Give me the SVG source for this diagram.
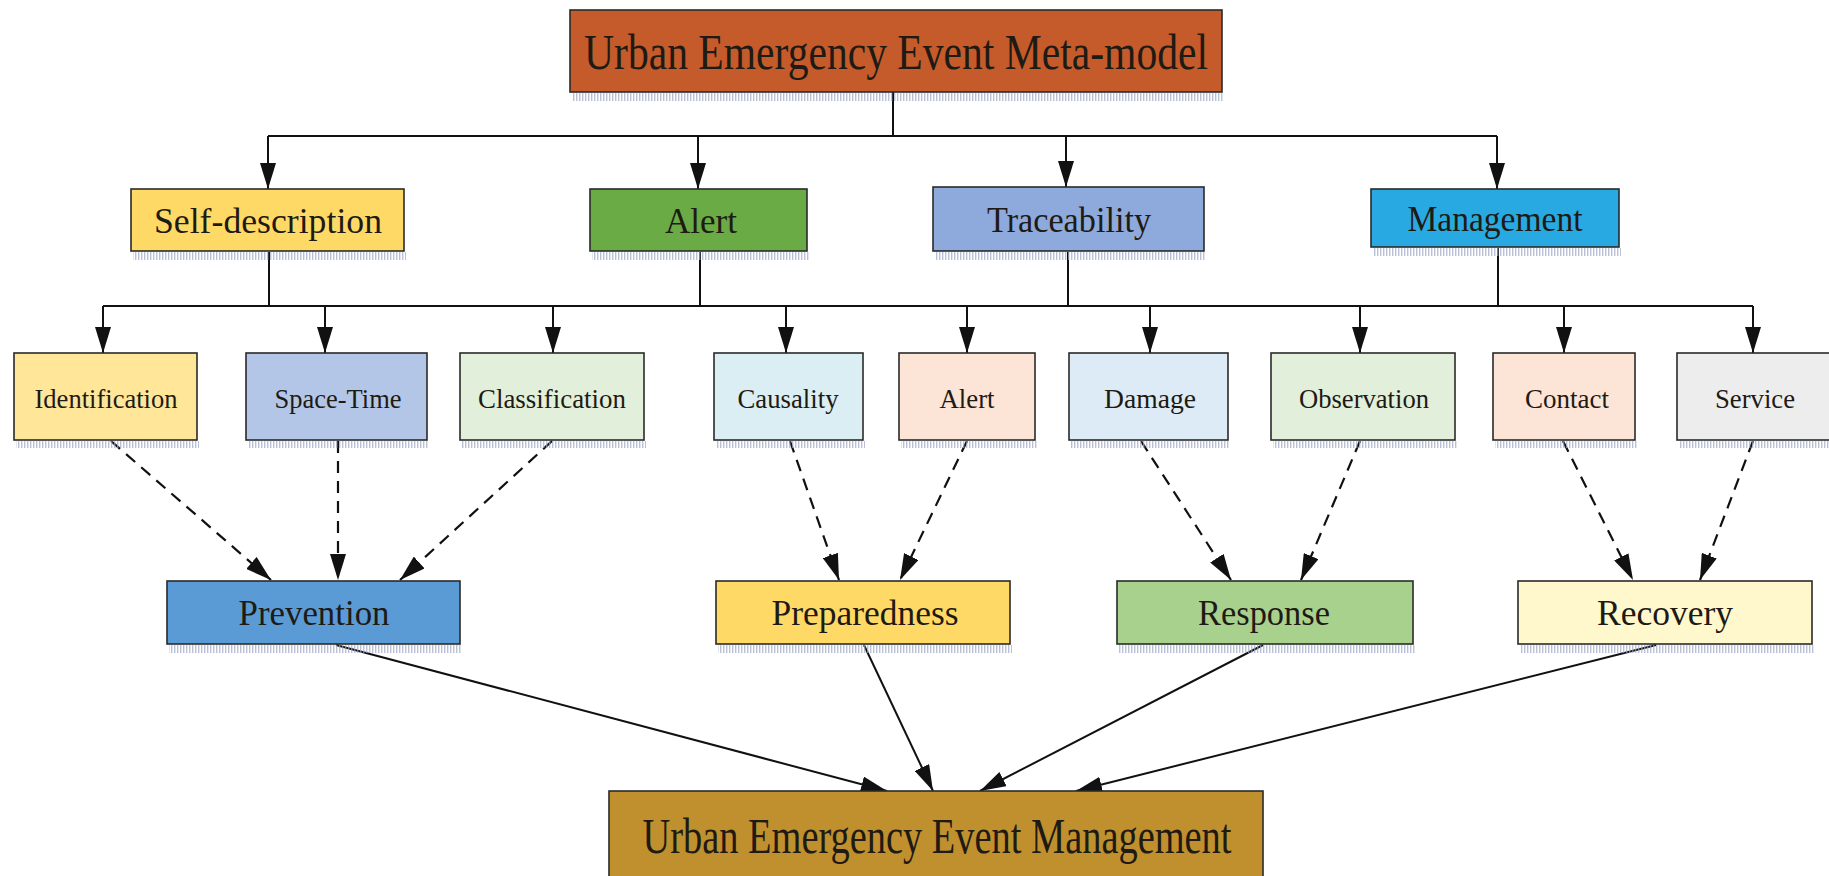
<svg xmlns="http://www.w3.org/2000/svg" width="1829" height="876" viewBox="0 0 1829 876">
<style>
.box{stroke:#2a2a2a;stroke-width:1.6}
.t{font-family:"Liberation Serif","Times New Roman",serif;fill:#1e1a14;text-anchor:middle;dominant-baseline:central}
.t1{font-size:50px}
.t2{font-size:36px}
.t3{font-size:28px}
.t4{font-size:36px}
.ln{stroke:#111;stroke-width:2;fill:none}
.arr{stroke:#111;stroke-width:2;fill:none;marker-end:url(#ah)}
.dash{stroke:#111;stroke-width:2.2;fill:none;stroke-dasharray:12 8;marker-end:url(#ah)}
.sh{fill:url(#shp);opacity:0.7}
</style>
<defs>
<marker id="ah" viewBox="0 0 26 16" refX="26" refY="8" markerWidth="26" markerHeight="16" orient="auto" markerUnits="userSpaceOnUse">
<path d="M0,0 L26,8 L0,16 z" fill="#111"/>
</marker>
<pattern id="shp" width="3" height="8" patternUnits="userSpaceOnUse">
<rect x="0" y="0" width="1.4" height="8" fill="#9aa6c4"/>
</pattern>
</defs>
<rect width="1829" height="876" fill="#ffffff"/>

<g id="connectors">
<line class="ln" x1="893" y1="92" x2="893" y2="136"/>
<line class="ln" x1="268" y1="136" x2="1497" y2="136"/>
<line class="arr" x1="268" y1="136" x2="268" y2="189"/>
<line class="arr" x1="698" y1="136" x2="698" y2="189"/>
<line class="arr" x1="1066" y1="136" x2="1066" y2="187"/>
<line class="arr" x1="1497" y1="136" x2="1497" y2="189"/>

<line class="ln" x1="269" y1="252" x2="269" y2="306"/>
<line class="ln" x1="700" y1="252" x2="700" y2="306"/>
<line class="ln" x1="1068" y1="252" x2="1068" y2="306"/>
<line class="ln" x1="1498" y1="248" x2="1498" y2="306"/>
<line class="ln" x1="103" y1="306" x2="1753" y2="306"/>
<line class="arr" x1="103" y1="306" x2="103" y2="353"/>
<line class="arr" x1="325" y1="306" x2="325" y2="353"/>
<line class="arr" x1="553" y1="306" x2="553" y2="353"/>
<line class="arr" x1="786" y1="306" x2="786" y2="353"/>
<line class="arr" x1="967" y1="306" x2="967" y2="353"/>
<line class="arr" x1="1150" y1="306" x2="1150" y2="353"/>
<line class="arr" x1="1360" y1="306" x2="1360" y2="353"/>
<line class="arr" x1="1564" y1="306" x2="1564" y2="353"/>
<line class="arr" x1="1753" y1="306" x2="1753" y2="353"/>

<line class="dash" x1="111" y1="441" x2="271" y2="580"/>
<line class="dash" x1="338" y1="441" x2="338" y2="580"/>
<line class="dash" x1="552" y1="441" x2="400" y2="580"/>
<line class="dash" x1="790" y1="441" x2="839" y2="580"/>
<line class="dash" x1="967" y1="441" x2="900" y2="580"/>
<line class="dash" x1="1141" y1="441" x2="1231" y2="580"/>
<line class="dash" x1="1360" y1="441" x2="1301" y2="580"/>
<line class="dash" x1="1563" y1="441" x2="1633" y2="580"/>
<line class="dash" x1="1753" y1="441" x2="1700" y2="580"/>

<line class="arr" x1="336" y1="645" x2="887" y2="791"/>
<line class="arr" x1="864" y1="645" x2="933" y2="791"/>
<line class="arr" x1="1263" y1="645" x2="980" y2="791"/>
<line class="arr" x1="1656" y1="645" x2="1076" y2="791"/>
</g>

<g id="n-top">
<rect class="sh" x="572" y="93" width="652" height="8"/>
<rect class="box" x="570" y="10" width="652" height="82" fill="#C55A2A"/>
<text class="t t1" x="896" y="52" textLength="624" lengthAdjust="spacingAndGlyphs">Urban Emergency Event Meta-model</text>
</g>

<g id="n-self">
<rect class="sh" x="133" y="252" width="273" height="8"/>
<rect class="box" x="131" y="189" width="273" height="62" fill="#FFD966"/>
<text class="t t2" x="268" y="221" textLength="228" lengthAdjust="spacingAndGlyphs">Self-description</text>
</g>
<g id="n-alert2">
<rect class="sh" x="592" y="252" width="217" height="8"/>
<rect class="box" x="590" y="189" width="217" height="62" fill="#6AAB45"/>
<text class="t t2" x="701" y="221" textLength="72" lengthAdjust="spacingAndGlyphs">Alert</text>
</g>
<g id="n-trace">
<rect class="sh" x="935" y="252" width="271" height="8"/>
<rect class="box" x="933" y="187" width="271" height="64" fill="#8EA9DB"/>
<text class="t t2" x="1069" y="220" textLength="164" lengthAdjust="spacingAndGlyphs">Traceability</text>
</g>
<g id="n-mgmt">
<rect class="sh" x="1373" y="248" width="248" height="8"/>
<rect class="box" x="1371" y="189" width="248" height="58" fill="#29A9E1"/>
<text class="t t2" x="1495" y="219" textLength="175" lengthAdjust="spacingAndGlyphs">Management</text>
</g>

<g id="n-ident">
<rect class="sh" x="16" y="441" width="183" height="7"/>
<rect class="box" x="14" y="353" width="183" height="87" fill="#FFE699"/>
<text class="t t3" x="106" y="398" textLength="143" lengthAdjust="spacingAndGlyphs">Identification</text>
</g>
<g id="n-space">
<rect class="sh" x="248" y="441" width="181" height="7"/>
<rect class="box" x="246" y="353" width="181" height="87" fill="#B4C6E7"/>
<text class="t t3" x="338" y="398" textLength="127" lengthAdjust="spacingAndGlyphs">Space-Time</text>
</g>
<g id="n-class">
<rect class="sh" x="462" y="441" width="184" height="7"/>
<rect class="box" x="460" y="353" width="184" height="87" fill="#E2EFDA"/>
<text class="t t3" x="552" y="398" textLength="148" lengthAdjust="spacingAndGlyphs">Classification</text>
</g>
<g id="n-caus">
<rect class="sh" x="716" y="441" width="149" height="7"/>
<rect class="box" x="714" y="353" width="149" height="87" fill="#DAEEF3"/>
<text class="t t3" x="788" y="398" textLength="101" lengthAdjust="spacingAndGlyphs">Causality</text>
</g>
<g id="n-alert3">
<rect class="sh" x="901" y="441" width="136" height="7"/>
<rect class="box" x="899" y="353" width="136" height="87" fill="#FCE4D6"/>
<text class="t t3" x="967" y="398" textLength="55" lengthAdjust="spacingAndGlyphs">Alert</text>
</g>
<g id="n-damage">
<rect class="sh" x="1071" y="441" width="159" height="7"/>
<rect class="box" x="1069" y="353" width="159" height="87" fill="#DDEBF7"/>
<text class="t t3" x="1150" y="398" textLength="92" lengthAdjust="spacingAndGlyphs">Damage</text>
</g>
<g id="n-obs">
<rect class="sh" x="1273" y="441" width="184" height="7"/>
<rect class="box" x="1271" y="353" width="184" height="87" fill="#E2EFDA"/>
<text class="t t3" x="1364" y="398" textLength="130" lengthAdjust="spacingAndGlyphs">Observation</text>
</g>
<g id="n-contact">
<rect class="sh" x="1495" y="441" width="142" height="7"/>
<rect class="box" x="1493" y="353" width="142" height="87" fill="#FCE4D6"/>
<text class="t t3" x="1567" y="398" textLength="84" lengthAdjust="spacingAndGlyphs">Contact</text>
</g>
<g id="n-service">
<rect class="sh" x="1679" y="441" width="152" height="7"/>
<rect class="box" x="1677" y="353" width="155" height="87" fill="#EDEDED"/>
<text class="t t3" x="1755" y="398" textLength="80" lengthAdjust="spacingAndGlyphs">Service</text>
</g>

<g id="n-prev">
<rect class="sh" x="169" y="645" width="293" height="8"/>
<rect class="box" x="167" y="581" width="293" height="63" fill="#5B9BD5"/>
<text class="t t4" x="314" y="613" textLength="151" lengthAdjust="spacingAndGlyphs">Prevention</text>
</g>
<g id="n-prep">
<rect class="sh" x="718" y="645" width="294" height="8"/>
<rect class="box" x="716" y="581" width="294" height="63" fill="#FFD966"/>
<text class="t t4" x="865" y="613" textLength="187" lengthAdjust="spacingAndGlyphs">Preparedness</text>
</g>
<g id="n-resp">
<rect class="sh" x="1119" y="645" width="296" height="8"/>
<rect class="box" x="1117" y="581" width="296" height="63" fill="#A9D18E"/>
<text class="t t4" x="1264" y="613" textLength="132" lengthAdjust="spacingAndGlyphs">Response</text>
</g>
<g id="n-recov">
<rect class="sh" x="1520" y="645" width="294" height="8"/>
<rect class="box" x="1518" y="581" width="294" height="63" fill="#FFF8CC"/>
<text class="t t4" x="1665" y="613" textLength="136" lengthAdjust="spacingAndGlyphs">Recovery</text>
</g>

<g id="n-bottom">
<rect class="box" x="609" y="791" width="654" height="90" fill="#C0902E"/>
<text class="t t1" x="937" y="836" textLength="589" lengthAdjust="spacingAndGlyphs">Urban Emergency Event Management</text>
</g>
</svg>
